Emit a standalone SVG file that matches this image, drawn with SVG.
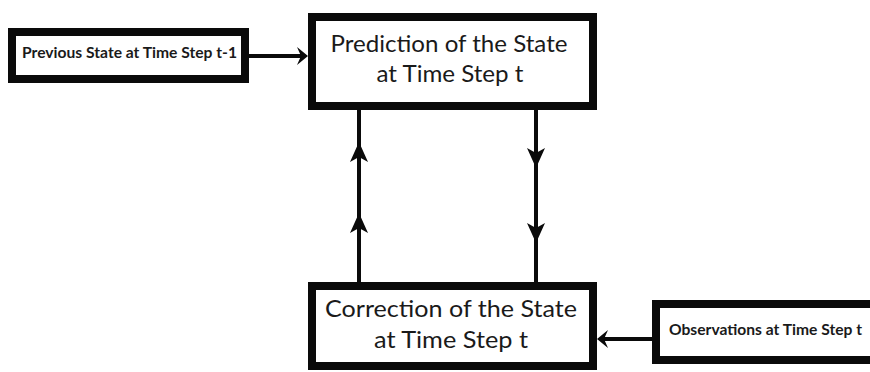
<svg xmlns="http://www.w3.org/2000/svg" width="870" height="372" viewBox="0 0 870 372">
<style>
.box{fill:#fff;stroke:#0a0a0a;stroke-width:8}
.lbl{font-family:Lato,"Open Sans","Liberation Sans",sans-serif;fill:#1a1a1a}
.big{font-size:23px;font-weight:normal;text-anchor:middle}
.small{font-size:16px;font-weight:bold}
.line{stroke:#0a0a0a;stroke-width:4;fill:none}
.head{fill:#0a0a0a}
</style>
<defs>
<path id="vhead" d="M0,0 L9,20 L0,15 L-9,20 Z"/>
<path id="hhead" d="M0,0 L-11,-9 L-7,0 L-11,9 Z"/>
</defs>
<rect width="870" height="372" fill="#fff"/>
<g id="connectors">
<line class="line" x1="249" y1="56" x2="304" y2="56"/>
<use href="#hhead" class="head" transform="translate(308,56)"/>
<line class="line" x1="359" y1="110" x2="359" y2="282"/>
<use href="#vhead" class="head" transform="translate(359,142)"/>
<use href="#vhead" class="head" transform="translate(359,213)"/>
<line class="line" x1="536" y1="110" x2="536" y2="282"/>
<use href="#vhead" class="head" transform="translate(536,168) rotate(180)"/>
<use href="#vhead" class="head" transform="translate(536,243) rotate(180)"/>
<line class="line" x1="652" y1="339" x2="601" y2="339"/>
<use href="#hhead" class="head" transform="translate(597,339) rotate(180)"/>
</g>
<g id="prev">
<rect class="box" x="12" y="32" width="233" height="47"/>
<text class="lbl small" x="22" y="58" textLength="215" lengthAdjust="spacingAndGlyphs">Previous State at Time Step t-1</text>
</g>
<g id="predict">
<rect class="box" x="312" y="17" width="281" height="89"/>
<text class="lbl big" x="449" y="52" textLength="237" lengthAdjust="spacingAndGlyphs">Prediction of the State</text>
<text class="lbl big" x="450" y="82" textLength="147" lengthAdjust="spacingAndGlyphs">at Time Step t</text>
</g>
<g id="correct">
<rect class="box" x="312" y="286" width="281" height="80"/>
<text class="lbl big" x="451" y="317" textLength="252" lengthAdjust="spacingAndGlyphs">Correction of the State</text>
<text class="lbl big" x="451" y="348" textLength="154" lengthAdjust="spacingAndGlyphs">at Time Step t</text>
</g>
<g id="obs">
<rect class="box" x="656" y="304" width="230" height="56"/>
<text class="lbl small" x="669" y="335" textLength="193" lengthAdjust="spacingAndGlyphs">Observations at Time Step t</text>
</g>
</svg>
